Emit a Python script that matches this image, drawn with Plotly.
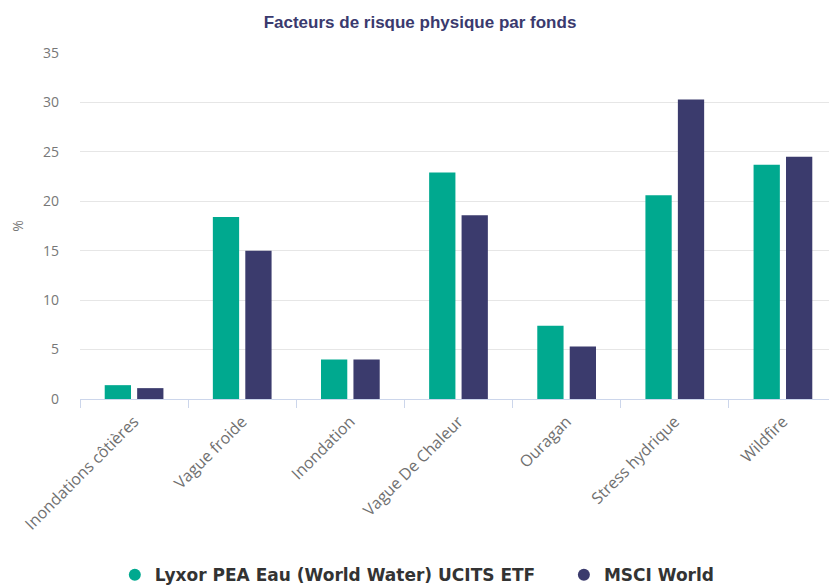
import plotly.graph_objects as go

categories = ["Inondations côtières", "Vague froide", "Inondation", "Vague De Chaleur",
              "Ouragan", "Stress hydrique", "Wildfire"]
series_names = ["Lyxor PEA Eau (World Water) UCITS ETF", "MSCI World"]
lyxor_values = [1.4, 18.4, 4.0, 22.9, 7.4, 20.6, 23.7]
msci_values = [1.1, 15.0, 4.0, 18.6, 5.3, 30.3, 24.5]
y_ticks = [0, 5, 10, 15, 20, 25, 30, 35]
title_text = "Facteurs de risque physique par fonds"
y_title = "%"

colors = ["#00a98f", "#3b3b6d"]

fig = go.Figure()
for name, vals, col in zip(series_names, [lyxor_values, msci_values], colors):
    fig.add_trace(go.Bar(x=categories, y=vals, name=name, marker_color=col,
                         marker_line_width=0, showlegend=False, hoverinfo="x+y"))
# legend entries with circle symbols
pads = ["\u00a0" * 4, ""]
for name, col, pad in zip(series_names, colors, pads):
    fig.add_trace(go.Scatter(x=[None], y=[None], mode="markers",
                             name="<b>" + name + pad + "</b>",
                             marker=dict(symbol="circle", size=15, color=col)))

fig.update_layout(
    width=829, height=577,
    margin=dict(l=72, r=0, t=45, b=186, autoexpand=False),
    paper_bgcolor="white", plot_bgcolor="white",
    title=dict(text="<b>" + title_text + "</b>", x=0.497, xanchor="center", y=0.976, yanchor="middle",
               font=dict(family="Liberation Sans, Arial, sans-serif", size=17, color="#3a3a6e")),
    barmode="group", bargap=0.40, bargroupgap=0.19,
    legend=dict(orientation="h", x=0.046, xanchor="left", y=-0.509, yanchor="middle",
                font=dict(family="DejaVu Sans, sans-serif", size=17, color="#333333"),
                itemsizing="constant", traceorder="normal"),
    showlegend=True,
)
fig.update_xaxes(
    tickangle=-45, tickson="boundaries", ticks="outside", ticklen=8, tickcolor="#ccd6eb",
    showline=True, linecolor="#ccd6eb", linewidth=1, showgrid=False, ticklabelstandoff=6,
    tickfont=dict(family="Open Sans, sans-serif", size=16, color="#707070"),
)
fig.update_yaxes(
    range=[0, 35], tickvals=y_ticks, showgrid=True, gridcolor="#e6e6e6", gridwidth=1,
    zeroline=False, showline=False, ticks="", ticklabelstandoff=20,
    tickfont=dict(family="Open Sans, sans-serif", size=14, color="#777777"),
    title=dict(text=y_title, font=dict(family="Open Sans, sans-serif", size=14, color="#777777"),
               standoff=20),
)

fig.write_html("out.html")
